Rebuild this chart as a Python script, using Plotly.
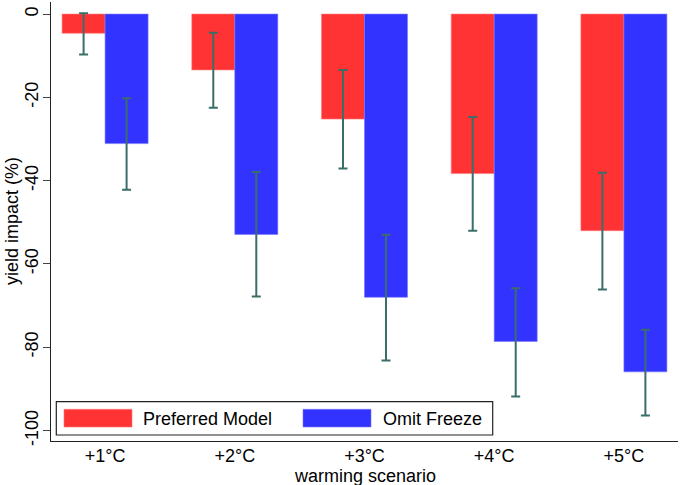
import plotly.graph_objects as go

scenarios = ["+1°C", "+2°C", "+3°C", "+4°C", "+5°C"]
series_names = ["Preferred Model", "Omit Freeze"]

preferred = [-4.6, -13.4, -25.2, -38.3, -52.0]
preferred_lo = [-9.7, -22.5, -37.1, -52.0, -66.1]
preferred_hi = [0.2, -4.5, -13.4, -24.7, -38.1]

omit = [-31.1, -52.9, -68.0, -78.6, -85.9]
omit_lo = [-42.2, -67.8, -83.2, -91.8, -96.4]
omit_hi = [-20.2, -37.9, -53.0, -65.8, -75.8]

y_ticks = [0, -20, -40, -60, -80, -100]

RED = "#ff3333"
BLUE = "#3333ff"
ERR = "#3a6e69"
FONT = "Liberation Sans, Arial, sans-serif"
FS = 18

W, H = 680, 485
ML, MR, MT, MB = 51, 2, 2, 44
PW, PH = W - ML - MR, H - MT - MB


def px_x(p):
    return (p - ML) / PW


def px_y(p):
    return (H - MB - p) / PH


def err(vals, lo, hi):
    return dict(
        type="data",
        symmetric=False,
        array=[h - v for v, h in zip(vals, hi)],
        arrayminus=[v - l for v, l in zip(vals, lo)],
        color=ERR,
        thickness=2,
        width=4.5,
    )


fig = go.Figure()
fig.add_trace(go.Bar(
    x=scenarios, y=preferred, name=series_names[0],
    marker=dict(color=RED, line=dict(color="#ff7777", width=0.6)),
    error_y=err(preferred, preferred_lo, preferred_hi),
))
fig.add_trace(go.Bar(
    x=scenarios, y=omit, name=series_names[1],
    marker=dict(color=BLUE, line=dict(color="#7777ff", width=0.6)),
    error_y=err(omit, omit_lo, omit_hi),
))

# custom Stata-style legend
shapes = [
    dict(type="rect", xref="paper", yref="paper",
         x0=px_x(56.3), x1=px_x(492.7), y0=px_y(435), y1=px_y(401.7),
         line=dict(color="#222222", width=1.2), fillcolor="white", layer="above"),
    dict(type="rect", xref="paper", yref="paper",
         x0=px_x(64), x1=px_x(132), y0=px_y(427), y1=px_y(409.3),
         line=dict(color="#ff7777", width=0.6), fillcolor=RED, layer="above"),
    dict(type="rect", xref="paper", yref="paper",
         x0=px_x(303), x1=px_x(371), y0=px_y(427), y1=px_y(409.3),
         line=dict(color="#7777ff", width=0.6), fillcolor=BLUE, layer="above"),
]
txt_font = dict(family=FONT, size=FS, color="black")
annotations = [
    dict(text=series_names[0], xref="paper", yref="paper",
         x=px_x(141), y=px_y(418.5), xanchor="left", yanchor="middle",
         showarrow=False, font=txt_font),
    dict(text=series_names[1], xref="paper", yref="paper",
         x=px_x(381), y=px_y(418.5), xanchor="left", yanchor="middle",
         showarrow=False, font=txt_font),
    dict(text="warming scenario", xref="paper", yref="paper",
         x=px_x(365), y=px_y(475.5), xanchor="center", yanchor="middle",
         showarrow=False, font=txt_font),
    dict(text="yield impact (%)", xref="paper", yref="paper",
         x=px_x(12), y=px_y(221), xanchor="center", yanchor="middle",
         textangle=-90, showarrow=False, font=txt_font),
]

fig.update_layout(
    width=W, height=H,
    margin=dict(l=ML, r=MR, t=MT, b=MB, pad=0, autoexpand=False),
    paper_bgcolor="white", plot_bgcolor="white",
    barmode="group", bargap=0.337, bargroupgap=0,
    showlegend=False,
    font=dict(family=FONT, size=FS, color="black"),
    shapes=shapes, annotations=annotations,
)
fig.update_xaxes(
    type="category", range=[-0.417, 4.417], automargin=False,
    showline=True, linecolor="#222222", linewidth=1.3,
    showgrid=False, zeroline=False,
    ticks="", ticklen=0, ticklabelstandoff=-2,
    tickfont=dict(family=FONT, size=FS),
)
fig.update_yaxes(
    range=[-102.5, 2.9], automargin=False,
    showline=True, linecolor="#222222", linewidth=1.3,
    showgrid=False, zeroline=False,
    tickvals=y_ticks, ticktext=[str(v) for v in y_ticks],
    tickangle=-90,
    ticks="outside", ticklen=7, tickcolor="#444444", tickwidth=1.3,
    ticklabelstandoff=-2,
    tickfont=dict(family=FONT, size=FS),
)

fig.write_html(
    "out.html",
    config={"displayModeBar": False},
    post_script="document.body.style.margin='0';document.body.style.padding='0';",
)
